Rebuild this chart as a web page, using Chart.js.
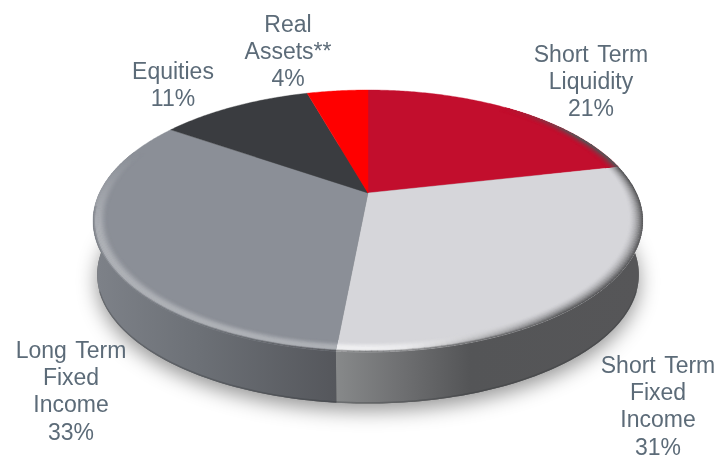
<!DOCTYPE html>
<html><head><meta charset="utf-8">
<style>html,body{margin:0;padding:0;background:#fff}canvas{display:block}</style>
<script src="https://cdn.jsdelivr.net/npm/chart.js@4/dist/chart.umd.min.js"></script>
</head><body><canvas id="c" width="716" height="459"></canvas>
<script>
const categories = [["Short Term","Liquidity"],["Short Term","Fixed","Income"],["Long Term","Fixed","Income"],["Equities"],["Real","Assets**"]];
const percentLabels = ["21%","31%","33%","11%","4%"];
const sliceValues = [21.5,30,33.1,11,4.4];
const faceColors = ["#C20E2D","#D6D6DA","#8B8F97","#3A3C40","#FF0000"];
const rimHighlight = [0,0.62,0.3,0,0];
const labelAnchors = [[591,62],[658,373],[71,358],[173,79],[288,32]];
const sideStops = [
  [[0,"#555658"],[1,"#555658"]],
  [[336,"#87898a"],[400,"#6f7072"],[470,"#545557"],[640,"#565658"]],
  [[92,"#7e8289"],[200,"#6c7076"],[335,"#55575c"]],
  [[0,"#2a2b2e"],[1,"#2a2b2e"]],
  [[0,"#aa0000"],[1,"#aa0000"]]
];
const view = {cx:368, ay:193, R:268.6, S:125, K:0.2137, depth:54, shrink:0.015};

function project(a,r,h){
  const u=Math.cos(a)*r, v=-Math.sin(a)*r, d=1+view.K*v, s=1-view.shrink*h;
  return [view.cx+view.R*s*u/d, view.ay+h*view.depth-view.S*s*v/d];
}
const clamp=x=>Math.max(0,Math.min(1,x));
const sstep=(a,b,x)=>{const t=clamp((x-a)/(b-a));return t*t*(3-2*t);};
const rgb=h=>[1,3,5].map(i=>parseInt(h.substr(i,2),16));
const mix=(a,b,t)=>a.map((x,i)=>x+(b[i]-x)*t);
const css=c=>`rgb(${c.map(Math.round).join(",")})`;
function wallAt(i,x){
  const st=sideStops[i];
  if(x<=st[0][0])return rgb(st[0][1]);
  for(let k=1;k<st.length;k++){
    if(x<=st[k][0])return mix(rgb(st[k-1][1]),rgb(st[k][1]),(x-st[k-1][0])/(st[k][0]-st[k-1][0]));
  }
  return rgb(st[st.length-1][1]);
}
function sectorPath(ctx,arc){
  ctx.beginPath();
  const p0=project(0,0,0);ctx.moveTo(p0[0],p0[1]);
  const n=Math.ceil((arc.endAngle-arc.startAngle)/0.01);
  for(let i=0;i<=n;i++){const a=arc.startAngle+(arc.endAngle-arc.startAngle)*i/n,p=project(a,1,0);ctx.lineTo(p[0],p[1]);}
  ctx.closePath();
}
function ringPath(ctx,h){
  ctx.beginPath();
  for(let i=0;i<=360;i++){const p=project(i*Math.PI/180,1,h);i?ctx.lineTo(p[0],p[1]):ctx.moveTo(p[0],p[1]);}
  ctx.closePath();
}
const piePlugin={
  id:'pie3d',
  beforeDatasetDraw(chart){
    const ctx=chart.ctx, arcs=chart.getDatasetMeta(0).data;
    ctx.save();
    ctx.save();
    ctx.shadowColor='rgba(0,0,0,0.42)';ctx.shadowBlur=20;ctx.shadowOffsetY=7;
    ctx.fillStyle='#666';ringPath(ctx,1);ctx.fill();
    ctx.restore();
    // wall only for the front of the disc, so nothing shows behind the rim
    arcs.forEach((arc,i)=>{
      const st=sideStops[i],x0=st[0][0],x1=st[st.length-1][0];
      const g=ctx.createLinearGradient(x0,0,x1,0);
      st.forEach(s=>g.addColorStop((s[0]-x0)/(x1-x0),s[1]));
      const from=Math.max(arc.startAngle,-0.02),toA=arc.endAngle;
      const segs=[];
      // arcs run from -PI/2 to 3PI/2; front is 0..PI
      const lo=Math.max(arc.startAngle,0),hi=Math.min(arc.endAngle,Math.PI);
      if(hi<=lo)return;
      ctx.fillStyle=g;ctx.beginPath();
      const n=120;
      for(let k=0;k<=n;k++){const p=project(lo+(hi-lo)*k/n,1,0);k?ctx.lineTo(p[0],p[1]):ctx.moveTo(p[0],p[1]);}
      for(let k=n;k>=0;k--){const p=project(lo+(hi-lo)*k/n,1,1);ctx.lineTo(p[0],p[1]);}
      ctx.closePath();ctx.fill();
    });
    ctx.strokeStyle='rgba(50,52,56,0.3)';ctx.lineWidth=1.5;ctx.beginPath();
    for(let d=20;d<=160;d++){const p=project(d*Math.PI/180,1,0.985);d>20?ctx.lineTo(p[0],p[1]):ctx.moveTo(p[0],p[1]);}
    ctx.stroke();
    arcs.forEach((arc,i)=>{
      const col=arc.options.backgroundColor;
      ctx.fillStyle=col;ctx.strokeStyle=col;ctx.lineWidth=0.4;
      sectorPath(ctx,arc);ctx.fill();ctx.stroke();
    });
    const layers=12,r0=0.95;
    arcs.forEach((arc,i)=>{
      const face=rgb(arc.options.backgroundColor),hi=mix(face,[255,255,255],rimHighlight[i]);
      ctx.save();sectorPath(ctx,arc);ctx.clip();
      ctx.lineCap='round';ctx.lineWidth=1.5;
      const step=Math.PI/180;
      for(let j=0;j<=layers;j++){
        const t=j/layers,r=r0+(1-r0)*t;
        for(let a=arc.startAngle;a<arc.endAngle;a+=step){
          const mid=a+step/2,u=Math.cos(mid),v=-Math.sin(mid);
          const H=clamp((0.35-v)/0.6)*clamp((0.55-u)/0.55);
          const D=clamp((u-0.1)/0.5)*clamp((0.8-v)/0.3);
          if(H<=0&&D<=0)continue;
          const p=project(a,r,0),q=project(Math.min(a+step,arc.endAngle),r,0);
          const wall=wallAt(i,p[0]);
          let c=mix(face,hi,sstep(0,0.65,t)*H);
          c=mix(c,wall,clamp(sstep(0.8,1,t)*H*(v<-0.1?1:0.3)+D*Math.pow(t,1.7)));
          ctx.strokeStyle=css(c);
          ctx.beginPath();ctx.moveTo(p[0],p[1]);ctx.lineTo(q[0],q[1]);ctx.stroke();
        }
      }
      ctx.restore();
    });
    ctx.restore();
    return false;
  },
  afterDraw(chart){
    const ctx=chart.ctx;
    ctx.save();
    ctx.font='23px "Liberation Sans", Arial, sans-serif';
    ctx.fillStyle='#5C6B78';ctx.textAlign='center';ctx.textBaseline='alphabetic';
    ctx.wordSpacing='2px';
    categories.forEach((lines,i)=>{
      lines.concat(percentLabels[i]).forEach((t,k)=>ctx.fillText(t,labelAnchors[i][0],labelAnchors[i][1]+k*27.2));
    });
    ctx.restore();
  }
};
new Chart(document.getElementById('c'),{
  type:'pie',
  data:{labels:categories.map(l=>l.join(' ')),datasets:[{data:sliceValues,backgroundColor:faceColors,borderWidth:0}]},
  options:{responsive:false,animation:false,plugins:{legend:{display:false},tooltip:{enabled:false}}},
  plugins:[piePlugin]
});
</script></body></html>
